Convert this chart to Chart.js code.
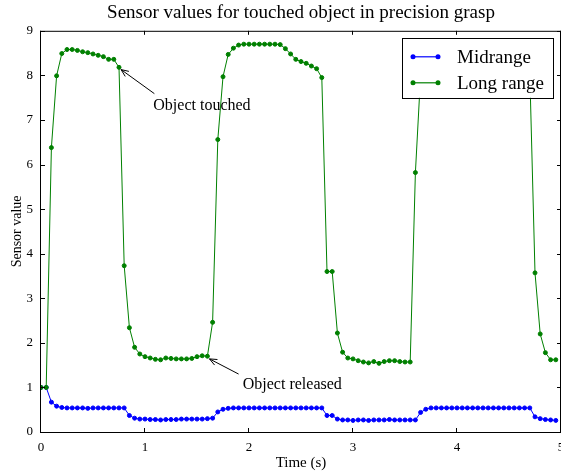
<!DOCTYPE html>
<html>
<head>
<meta charset="utf-8">
<script src="https://cdn.jsdelivr.net/npm/chart.js@4.4.1/dist/chart.umd.min.js"></script>
<style>
  html, body { margin: 0; padding: 0; background: #fff; }
  canvas { display: block; }
</style>
</head>
<body>
<canvas id="sensorChart" width="561" height="472"></canvas>
<script>
// sample times (s)
const times = [
  0.00, 0.05, 0.10, 0.15, 0.20, 0.25, 0.30, 0.35, 0.40, 0.45,
  0.50, 0.55, 0.60, 0.65, 0.70, 0.75, 0.80, 0.85, 0.90, 0.95,
  1.00, 1.05, 1.10, 1.15, 1.20, 1.25, 1.30, 1.35, 1.40, 1.45,
  1.50, 1.55, 1.60, 1.65, 1.70, 1.75, 1.80, 1.85, 1.90, 1.95,
  2.00, 2.05, 2.10, 2.15, 2.20, 2.25, 2.30, 2.35, 2.40, 2.45,
  2.50, 2.55, 2.60, 2.65, 2.70, 2.75, 2.80, 2.85, 2.90, 2.95,
  3.00, 3.05, 3.10, 3.15, 3.20, 3.25, 3.30, 3.35, 3.40, 3.45,
  3.50, 3.55, 3.60, 3.65, 3.70, 3.75, 3.80, 3.85, 3.90, 3.95,
  4.00, 4.05, 4.10, 4.15, 4.20, 4.25, 4.30, 4.35, 4.40, 4.45,
  4.50, 4.55, 4.60, 4.65, 4.70, 4.75, 4.80, 4.85, 4.90, 4.95
];

const midrange = [
  1.00, 1.00, 0.67, 0.58, 0.55, 0.54, 0.54, 0.54, 0.54, 0.53,
  0.54, 0.54, 0.54, 0.54, 0.54, 0.54, 0.54, 0.37, 0.31, 0.29,
  0.29, 0.28, 0.28, 0.27, 0.28, 0.28, 0.28, 0.29, 0.29, 0.29,
  0.29, 0.29, 0.30, 0.31, 0.45, 0.51, 0.53, 0.54, 0.54, 0.54,
  0.54, 0.54, 0.54, 0.54, 0.54, 0.54, 0.54, 0.54, 0.54, 0.54,
  0.54, 0.54, 0.54, 0.54, 0.54, 0.37, 0.37, 0.29, 0.27, 0.27,
  0.26, 0.27, 0.27, 0.26, 0.27, 0.27, 0.27, 0.28, 0.27, 0.27,
  0.27, 0.27, 0.27, 0.44, 0.51, 0.54, 0.54, 0.54, 0.54, 0.54,
  0.54, 0.54, 0.54, 0.54, 0.54, 0.54, 0.54, 0.54, 0.54, 0.54,
  0.54, 0.54, 0.54, 0.54, 0.54, 0.34, 0.30, 0.28, 0.27, 0.26
];

const longRange = [
  1.00, 1.00, 6.38, 7.99, 8.49, 8.58, 8.58, 8.56, 8.53, 8.51,
  8.48, 8.45, 8.42, 8.36, 8.36, 8.18, 3.73, 2.34, 1.90, 1.75,
  1.69, 1.66, 1.63, 1.62, 1.66, 1.65, 1.64, 1.64, 1.64, 1.65,
  1.69, 1.71, 1.70, 2.46, 6.56, 7.97, 8.47, 8.61, 8.68, 8.70,
  8.70, 8.70, 8.70, 8.70, 8.70, 8.70, 8.69, 8.60, 8.48, 8.36,
  8.31, 8.27, 8.21, 8.15, 7.95, 3.60, 3.60, 2.22, 1.79, 1.66,
  1.64, 1.60, 1.57, 1.55, 1.58, 1.54, 1.58, 1.60, 1.60, 1.58,
  1.57, 1.57, 5.82, 8.00, 8.48, 8.60, 8.66, 8.68, 8.68, 8.68,
  8.68, 8.68, 8.68, 8.68, 8.68, 8.68, 8.68, 8.66, 8.58, 8.47,
  8.38, 8.32, 8.26, 8.20, 8.05, 3.57, 2.20, 1.78, 1.62, 1.62
];

const xTicks = [0, 1, 2, 3, 4, 5];
const yTicks = [0, 1, 2, 3, 4, 5, 6, 7, 8, 9];

// annotation text and arrows, in data units
const notes = [
  { text: 'Object touched', tx: 1.08, ty: 7.32, from: [1.09, 7.59], to: [0.77, 8.13] },
  { text: 'Object released', tx: 1.94, ty: 1.06, from: [1.90, 1.30], to: [1.62, 1.64] }
];

const serif = "'Liberation Serif', 'DejaVu Serif', serif";

function toPoints(xs, ys) {
  return xs.map((t, i) => ({ x: t, y: ys[i] }));
}

const framePlugin = {
  id: 'frame',
  afterDatasetsDraw(chart) {
    const { ctx, chartArea: a, scales: { x, y } } = chart;
    ctx.save();
    ctx.strokeStyle = '#000';
    ctx.lineWidth = 1;
    ctx.beginPath();
    xTicks.forEach(v => {
      const px = Math.round(x.getPixelForValue(v)) - 0.5;
      ctx.moveTo(px, a.bottom); ctx.lineTo(px, a.bottom - 4);
      ctx.moveTo(px, a.top); ctx.lineTo(px, a.top + 4);
    });
    yTicks.forEach(v => {
      const py = Math.round(y.getPixelForValue(v)) + 0.5;
      ctx.moveTo(a.left, py); ctx.lineTo(a.left + 4, py);
      ctx.moveTo(a.right, py); ctx.lineTo(a.right - 4, py);
    });
    ctx.stroke();
    ctx.strokeRect(a.left - 0.5, a.top + 0.5, a.right - a.left, a.bottom - a.top);

    // annotations
    ctx.font = '16px ' + serif;
    ctx.fillStyle = '#000';
    ctx.textBaseline = 'middle';
    ctx.textAlign = 'left';
    notes.forEach(n => {
      const x0 = x.getPixelForValue(n.from[0]), y0 = y.getPixelForValue(n.from[1]);
      const x1 = x.getPixelForValue(n.to[0]), y1 = y.getPixelForValue(n.to[1]);
      const ang = Math.atan2(y1 - y0, x1 - x0);
      ctx.beginPath();
      ctx.moveTo(x0, y0); ctx.lineTo(x1, y1);
      ctx.moveTo(x1 - 8 * Math.cos(ang - 0.4), y1 - 8 * Math.sin(ang - 0.4));
      ctx.lineTo(x1, y1);
      ctx.lineTo(x1 - 8 * Math.cos(ang + 0.4), y1 - 8 * Math.sin(ang + 0.4));
      ctx.stroke();
      ctx.fillText(n.text, x.getPixelForValue(n.tx), y.getPixelForValue(n.ty));
    });
    ctx.restore();
  },
  afterDraw(chart) {
    // matplotlib-like legend box in the upper right corner
    const { ctx, chartArea: a } = chart;
    const w = 151, h = 60;
    const bx = a.right - 8 - w, by = a.top + 7;
    ctx.save();
    ctx.fillStyle = '#fff';
    ctx.fillRect(bx, by, w, h);
    ctx.strokeStyle = '#000';
    ctx.lineWidth = 1;
    ctx.strokeRect(Math.round(bx) + 0.5, Math.round(by) + 0.5, w, h);
    ctx.font = '19px ' + serif;
    ctx.textBaseline = 'middle';
    ctx.textAlign = 'left';
    chart.data.datasets.forEach((ds, i) => {
      const cy = by + 19 + i * 26;
      ctx.strokeStyle = ds.borderColor;
      ctx.fillStyle = ds.borderColor;
      ctx.lineWidth = 1.2;
      ctx.beginPath();
      ctx.moveTo(bx + 11, cy); ctx.lineTo(bx + 36, cy);
      ctx.stroke();
      [bx + 11, bx + 36].forEach(mx => {
        ctx.beginPath();
        ctx.arc(mx, cy, 2.5, 0, Math.PI * 2);
        ctx.fill();
      });
      ctx.fillStyle = '#000';
      ctx.fillText(ds.label, bx + 55, cy + 1);
    });
    ctx.restore();
  }
};

new Chart(document.getElementById('sensorChart').getContext('2d'), {
  type: 'line',
  data: {
    datasets: [
      {
        label: 'Midrange',
        data: toPoints(times, midrange),
        borderColor: '#0000ff',
        backgroundColor: '#0000ff',
        borderWidth: 1,
        pointRadius: 2,
        pointBorderWidth: 1,
        order: 2
      },
      {
        label: 'Long range',
        data: toPoints(times, longRange),
        borderColor: '#008000',
        backgroundColor: '#008000',
        borderWidth: 1,
        pointRadius: 2,
        pointBorderWidth: 1,
        order: 1
      }
    ]
  },
  options: {
    responsive: false,
    animation: false,
    devicePixelRatio: 1,
    layout: { autoPadding: false, padding: { left: 0, right: 0, top: 0, bottom: 0 } },
    plugins: {
      legend: { display: false },
      tooltip: { enabled: false },
      title: {
        display: true,
        fullSize: false,
        text: 'Sensor values for touched object in precision grasp',
        color: '#000',
        font: { family: serif, size: 19, weight: 'normal', lineHeight: 1.2 },
        padding: { top: 2, bottom: 6 }
      }
    },
    scales: {
      x: {
        type: 'linear',
        min: 0,
        max: 5,
        afterBuildTicks(s) { s.ticks = xTicks.map(v => ({ value: v })); },
        afterFit(s) { s.height = 40; s.paddingLeft = 0; s.paddingRight = 0; },
        grid: { display: false, drawTicks: false },
        border: { display: false },
        ticks: { color: '#000', padding: 8, font: { family: serif, size: 13 } },
        title: {
          display: true,
          text: 'Time (s)',
          color: '#000',
          font: { family: serif, size: 15 },
          padding: { top: 0, bottom: 0 }
        }
      },
      y: {
        min: 0,
        max: 9,
        afterBuildTicks(s) { s.ticks = yTicks.map(v => ({ value: v })); },
        afterFit(s) { s.width = 41; },
        grid: { display: false, drawTicks: false },
        border: { display: false },
        ticks: { color: '#000', padding: 8, font: { family: serif, size: 13 } },
        title: {
          display: true,
          text: 'Sensor value',
          color: '#000',
          font: { family: serif, size: 14 },
          padding: { top: 9, bottom: 0 }
        }
      }
    }
  },
  plugins: [framePlugin]
});
</script>
</body>
</html>
